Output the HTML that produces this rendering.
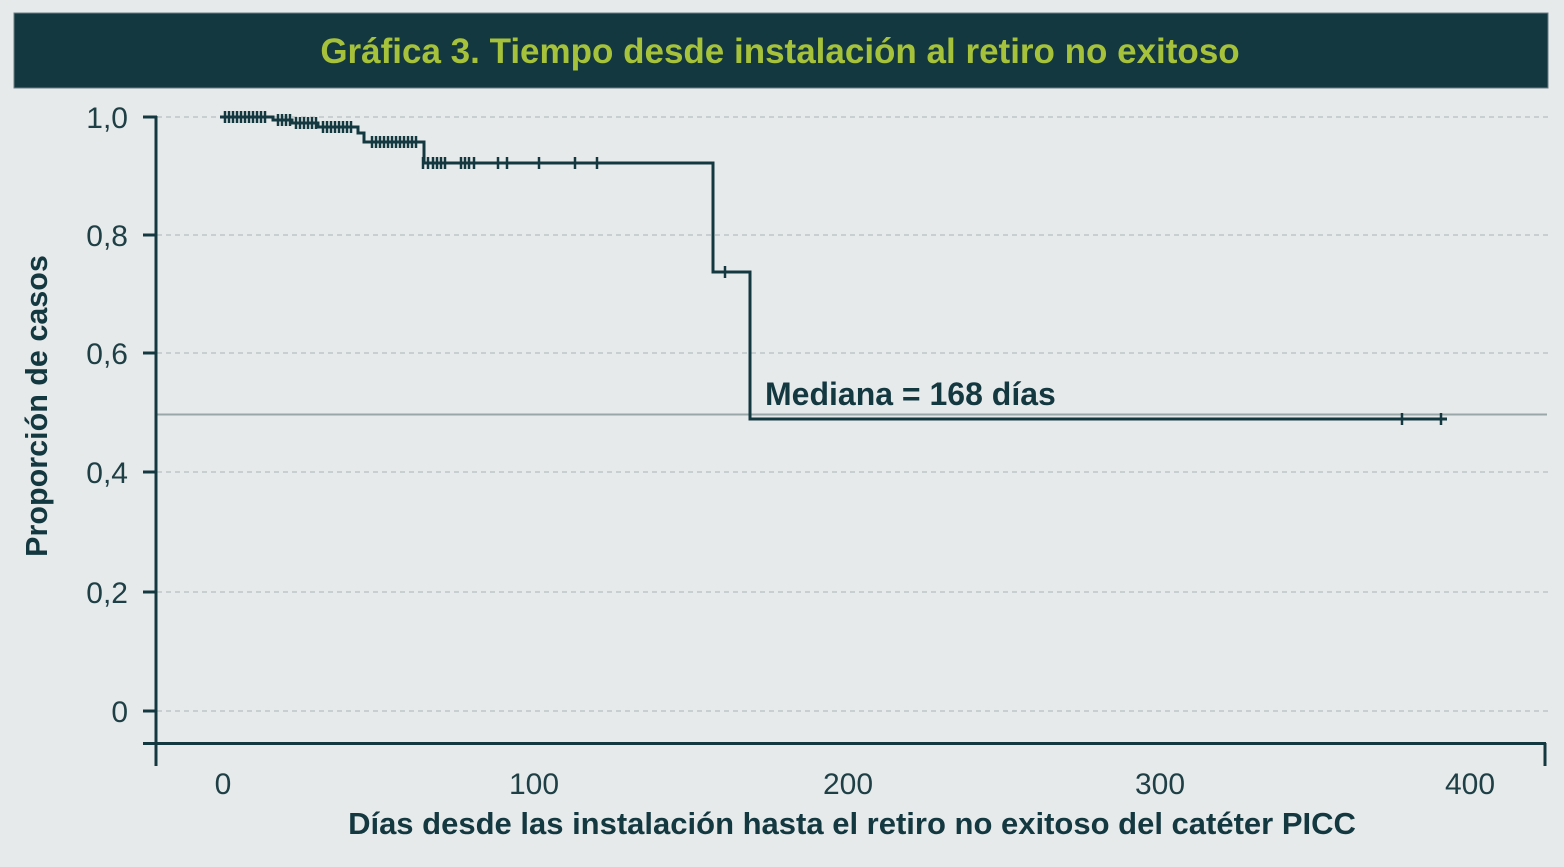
<!DOCTYPE html>
<html><head><meta charset="utf-8"><style>
html,body{margin:0;padding:0;background:#e6eaeb;}
svg{display:block;font-family:"Liberation Sans",sans-serif;}
</style></head><body>
<svg width="1564" height="867" viewBox="0 0 1564 867" xmlns="http://www.w3.org/2000/svg">
<rect width="1564" height="867" fill="#e6eaeb"/>
<rect x="14" y="13" width="1534" height="75" fill="#143840" stroke="#6a7f84" stroke-width="1"/>
<text x="780" y="63" text-anchor="middle" font-size="35" font-weight="bold" fill="#a6c23a">Gráfica 3. Tiempo desde instalación al retiro no exitoso</text>
<g stroke="#a9b4b6" stroke-width="1" stroke-dasharray="5,4">
<line x1="157" y1="117" x2="1548" y2="117"/>
<line x1="157" y1="235" x2="1548" y2="235"/>
<line x1="157" y1="353" x2="1548" y2="353"/>
<line x1="157" y1="472" x2="1548" y2="472"/>
<line x1="157" y1="592" x2="1548" y2="592"/>
<line x1="157" y1="711" x2="1548" y2="711"/>
</g>
<line x1="157" y1="414.5" x2="1547" y2="414.5" stroke="#9aa7a9" stroke-width="2"/>
<g stroke="#143840" stroke-width="3" fill="none">
<line x1="156" y1="116" x2="156" y2="766"/>
<line x1="143" y1="743.5" x2="1546" y2="743.5"/>
<line x1="1545" y1="743" x2="1545" y2="766"/>
<line x1="143" y1="117" x2="157" y2="117"/>
<line x1="143" y1="235" x2="157" y2="235"/>
<line x1="143" y1="353" x2="157" y2="353"/>
<line x1="143" y1="472" x2="157" y2="472"/>
<line x1="143" y1="592" x2="157" y2="592"/>
<line x1="143" y1="711" x2="157" y2="711"/>
<path d="M220 117 H273 V120 H292 V123 H318 V127 H358 V133 H364 V142 H424 V163 H713 V272 H750 V419 H1447"/>
</g>
<g stroke="#143840" stroke-width="2.5">
<path d="M225 111v12M229 111v12M233 111v12M237 111v12M241 111v12M245 111v12M249 111v12M253 111v12M257 111v12M261 111v12M265 111v12
M278 114v12M282 114v12M286 114v12M290 114v12
M296 117v12M300 117v12M304 117v12M308 117v12M312 117v12M316 117v12
M323 121v12M327 121v12M331 121v12M335 121v12M339 121v12M343 121v12M347 121v12M351 121v12
M372 136v12M376 136v12M380 136v12M384 136v12M388 136v12M392 136v12M396 136v12M400 136v12M404 136v12M408 136v12M412 136v12M416 136v12
M423 157v12M428 157v12M433 157v12M437 157v12M441 157v12M445 157v12M461 157v12M465 157v12M469 157v12M474 157v12
M498 157v12M507 157v12M539 157v12M575 157v12M597 157v12
M725 266v12M1402 413v12M1441 413v12"/>
</g>
<g font-size="30" fill="#1e3f45" text-anchor="end">
<text x="128" y="128">1,0</text>
<text x="128" y="246">0,8</text>
<text x="128" y="364">0,6</text>
<text x="128" y="483">0,4</text>
<text x="128" y="603">0,2</text>
<text x="128" y="722">0</text>
</g>
<g font-size="30" fill="#1e3f45" text-anchor="middle">
<text x="223" y="794">0</text>
<text x="534" y="794">100</text>
<text x="848" y="794">200</text>
<text x="1160" y="794">300</text>
<text x="1470" y="794">400</text>
</g>
<text x="852" y="834" text-anchor="middle" font-size="31" font-weight="bold" fill="#143840">Días desde las instalación hasta el retiro no exitoso del catéter PICC</text>
<text transform="translate(47,406) rotate(-90)" text-anchor="middle" font-size="30.5" font-weight="bold" fill="#143840">Proporción de casos</text>
<text x="765" y="405" font-size="32" font-weight="bold" fill="#143840">Mediana = 168 días</text>
</svg>
</body></html>
